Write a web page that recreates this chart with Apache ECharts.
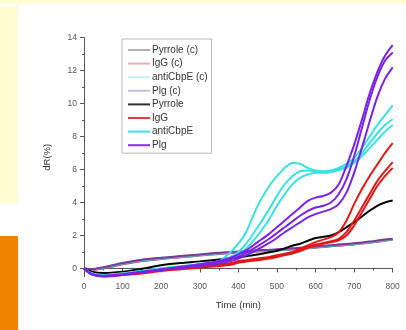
<!DOCTYPE html>
<html><head><meta charset="utf-8">
<script src="https://cdn.jsdelivr.net/npm/echarts@6/dist/echarts.min.js"></script>
<style>html,body{margin:0;padding:0;background:#fff}#c{width:406px;height:330px}</style>
</head><body><div id="c"></div>
<script>
// time points (min)
const times = [0,20,50,100,150,200,250,300,350,380,400,420,450,480,500,520,540,560,580,600,620,640,660,680,700,720,740,760,780,800];
// controls
const pyrroleC = [0,-0.05,0.05,0.3,0.5,0.62,0.72,0.82,0.92,0.97,1.0,1.03,1.07,1.1,1.13,1.16,1.19,1.22,1.26,1.3,1.34,1.38,1.42,1.46,1.5,1.55,1.6,1.66,1.72,1.78];
const igGC = [0,-0.08,0.0,0.25,0.45,0.58,0.68,0.78,0.88,0.93,0.96,0.99,1.03,1.06,1.09,1.12,1.15,1.18,1.22,1.26,1.3,1.34,1.38,1.42,1.46,1.51,1.56,1.62,1.68,1.74];
const antiCbpEC = [0,-0.06,0.03,0.28,0.48,0.6,0.7,0.8,0.9,0.95,0.98,1.01,1.05,1.08,1.11,1.14,1.17,1.2,1.24,1.28,1.32,1.36,1.4,1.44,1.48,1.53,1.58,1.64,1.7,1.76];
const plgC = [0,-0.04,0.08,0.33,0.53,0.65,0.75,0.85,0.95,1.0,1.03,1.06,1.1,1.13,1.16,1.19,1.22,1.25,1.29,1.33,1.37,1.41,1.45,1.49,1.53,1.58,1.63,1.69,1.75,1.81];
// samples
const pyrrole = [0,-0.2,-0.28,-0.2,-0.02,0.2,0.33,0.43,0.55,0.62,0.67,0.74,0.85,0.98,1.08,1.22,1.38,1.5,1.68,1.85,1.92,2.0,2.2,2.5,2.8,3.15,3.5,3.8,4.0,4.12];
const igG1 = [0,-0.3,-0.4,-0.3,-0.2,-0.05,0.05,0.15,0.25,0.32,0.45,0.5,0.6,0.7,0.8,0.9,1.0,1.2,1.4,1.6,1.75,1.9,2.2,2.9,3.9,4.8,5.6,6.3,7.0,7.6];
const igG2 = [0,-0.3,-0.45,-0.35,-0.25,-0.1,0.0,0.1,0.2,0.28,0.4,0.45,0.55,0.65,0.75,0.85,0.95,1.1,1.3,1.45,1.55,1.65,1.8,2.2,2.9,3.7,4.5,5.3,5.9,6.45];
const igG3 = [0,-0.3,-0.5,-0.4,-0.3,-0.15,-0.05,0.05,0.15,0.22,0.35,0.42,0.5,0.6,0.7,0.8,0.9,1.05,1.25,1.4,1.5,1.6,1.7,2.0,2.6,3.4,4.2,5.0,5.6,6.1];
const anti1 = [0,-0.3,-0.4,-0.3,-0.15,0.0,0.12,0.25,0.45,1.0,1.5,2.2,3.8,5.0,5.6,6.1,6.4,6.35,6.1,5.95,5.9,5.95,6.1,6.35,6.7,7.3,8.0,8.7,9.3,9.9];
const anti2 = [0,-0.3,-0.4,-0.3,-0.15,0.0,0.12,0.25,0.42,0.7,1.0,1.5,2.5,3.6,4.4,5.1,5.6,5.9,5.95,5.9,5.85,5.9,6.0,6.2,6.5,7.0,7.6,8.2,8.7,9.05];
const anti3 = [0,-0.3,-0.42,-0.32,-0.18,-0.02,0.1,0.22,0.4,0.6,0.85,1.2,2.0,3.0,3.8,4.5,5.1,5.5,5.7,5.8,5.8,5.85,5.95,6.1,6.4,6.8,7.3,7.8,8.3,8.7];
const plg1 = [0,-0.35,-0.45,-0.35,-0.2,-0.05,0.1,0.25,0.45,0.65,0.85,1.1,1.6,2.1,2.5,2.9,3.3,3.7,4.1,4.3,4.4,4.6,5.1,6.2,7.5,9.0,10.6,11.9,12.9,13.55];
const plg2 = [0,-0.35,-0.45,-0.38,-0.22,-0.08,0.06,0.2,0.38,0.55,0.72,0.95,1.35,1.8,2.15,2.5,2.85,3.2,3.5,3.7,3.8,4.0,4.5,5.4,6.8,8.5,10.2,11.6,12.6,13.1];
const plg3 = [0,-0.35,-0.48,-0.4,-0.25,-0.1,0.03,0.15,0.3,0.45,0.6,0.8,1.15,1.55,1.85,2.2,2.5,2.8,3.1,3.3,3.45,3.6,3.9,4.6,5.8,7.3,8.9,10.4,11.5,12.2];
const legendNames = ['Pyrrole (c)','IgG (c)','antiCbpE (c)','Plg (c)','Pyrrole','IgG','antiCbpE','Plg'];
const yLabels = [0,2,4,6,8,10,12,14];
const yMinor = [1,3,5,7,9,11,13];

const pair = arr => times.map((t,i)=>[t,arr[i]]);
const FONT = 'Liberation Sans';
function mk(name, arr, color, width){
  return {type:'line', name, data:pair(arr), showSymbol:false, symbol:'none', smooth:0.3,
    lineStyle:{color, width}, itemStyle:{color}, xAxisIndex:0, yAxisIndex:0, z:2};
}
const series = [
  mk('Pyrrole (c)', pyrroleC, '#6a6a6a', 2),
  mk('IgG (c)', igGC, '#b04058', 2),
  mk('antiCbpE (c)', antiCbpEC, '#58b8c8', 2),
  mk('Plg (c)', plgC, '#7a3a9a', 2),
  mk('Pyrrole', pyrrole, '#000000', 2),
  mk('IgG', igG1, '#e01818', 2),
  mk('IgG', igG2, '#e01818', 2),
  mk('IgG', igG3, '#e01818', 2),
  mk('antiCbpE', anti1, '#38e0e0', 2),
  mk('antiCbpE', anti2, '#38e0e0', 2),
  mk('antiCbpE', anti3, '#38e0e0', 2),
  mk('Plg', plg1, '#7a22e6', 2),
  mk('Plg', plg2, '#7a22e6', 2),
  mk('Plg', plg3, '#7a22e6', 2)
];
const legendColors = ['#b0b0b0','#eab0b0','#c0f4f4','#c8bce8','#303030','#d84040','#40e0f0','#8a30e0'];
const chart = echarts.init(document.getElementById('c'), null, {renderer:'canvas'});
chart.setOption({
  animation:false,
  backgroundColor:'#ffffff',
  graphic:[
    {type:'rect', shape:{x:0,y:0,width:406,height:3.5}, style:{fill:'#fffcd2'}, z:-10},
    {type:'rect', shape:{x:0,y:6,width:18,height:197}, style:{fill:'#fffcd2'}, z:-10},
    {type:'rect', shape:{x:0,y:236,width:18,height:94}, style:{fill:'#f08400'}, z:-10}
  ],
  grid:{left:84, right:13.3, top:37.7, bottom:53.3},
  legend:{
    left:122, top:39, orient:'vertical', itemWidth:22, itemHeight:2, icon:'rect', itemGap:3.6,
    padding:[6,4,3,6], borderColor:'#b8b8b8', borderWidth:1, backgroundColor:'#fff',
    textStyle:{fontFamily:FONT, fontSize:10, color:'#333', lineHeight:10, padding:[0,0,0,-3]},
    data: legendNames.map((n,i)=>({name:n, itemStyle:{color:legendColors[i]}}))
  },
  xAxis:{
    type:'value', min:0, max:800, interval:100,
    name:'Time (min)', nameLocation:'middle', nameGap:24,
    nameTextStyle:{fontFamily:FONT, fontSize:9.5, color:'#333'},
    axisLine:{lineStyle:{color:'#555', width:1}},
    axisTick:{length:4, lineStyle:{color:'#555'}},
    minorTick:{show:true, splitNumber:2, length:2, lineStyle:{color:'#555'}},
    axisLabel:{fontFamily:FONT, fontSize:8.5, color:'#555', margin:5},
    splitLine:{show:false}
  },
  yAxis:[{
    type:'value', min:-0.5, max:14,
    name:'dR(%)', nameLocation:'middle', nameGap:32, nameRotate:90,
    nameTextStyle:{fontFamily:FONT, fontSize:9.5, color:'#333'},
    axisLine:{show:true, lineStyle:{color:'#555', width:1}},
    axisTick:{show:true, length:4, customValues:yLabels, lineStyle:{color:'#555'}},
    axisLabel:{fontFamily:FONT, fontSize:8.5, color:'#555', margin:7, customValues:yLabels},
    splitLine:{show:false}
  },{
    type:'value', min:-0.5, max:14, position:'left',
    axisLine:{show:false},
    axisTick:{show:true, length:2, customValues:yMinor, lineStyle:{color:'#555'}},
    axisLabel:{show:false, customValues:yMinor},
    splitLine:{show:false}
  }],
  series
});
</script></body></html>
